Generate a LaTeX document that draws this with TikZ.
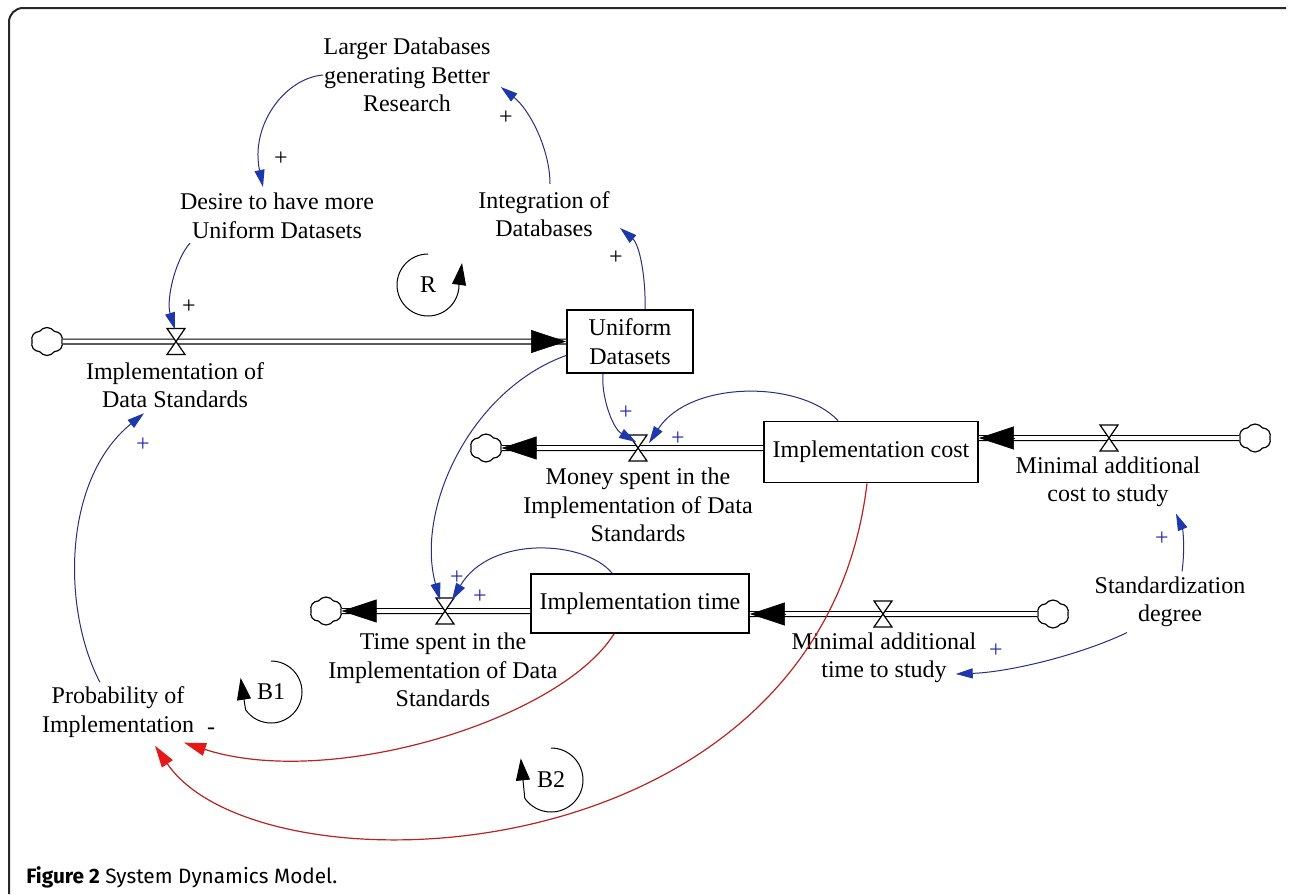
\documentclass[tikz,border=0pt]{standalone}
\usepackage{fontspec}
\setmainfont{Liberation Serif}
\newfontfamily\capfont{Fira Sans}
\usetikzlibrary{arrows.meta,shapes.symbols,calc}
\definecolor{linkc}{RGB}{45,45,125}
\definecolor{tipc}{RGB}{30,55,170}
\definecolor{plusc}{RGB}{40,40,175}
\definecolor{redl}{RGB}{185,35,35}
\definecolor{redt}{RGB}{230,25,25}
\definecolor{framec}{RGB}{40,40,40}
\begin{document}
\begin{tikzpicture}[x=0.5pt,y=-0.5pt,
  lbl/.style={font=\fontsize{12}{14.25}\selectfont, align=center, inner sep=0pt},
  stockbox/.style={draw, line width=0.9pt, fill=white, font=\fontsize{12}{14.25}\selectfont, align=center, inner sep=0pt},
  cloudn/.style={cloud, draw, line width=0.6pt, cloud puffs=6, cloud puff arc=110, aspect=1.1, minimum width=16pt, minimum height=14pt, inner sep=0pt, fill=white},
  pipe/.style={draw, line width=0.6pt, double=white, double distance=1.8pt},
  pipetip/.style={-{Triangle[length=17.5pt,width=11.5pt]}, line width=0.3pt, black},
  valvest/.style={draw, line width=0.6pt, fill=white},
  link/.style={linkc, line width=0.5pt, -{Triangle[length=8.5pt,width=5pt,color=tipc]}},
  redlink/.style={redl, line width=0.6pt, -{Triangle[length=11pt,width=6.5pt,color=redt]}},
  loopmk/.style={black, line width=0.5pt, -{Triangle[length=11pt,width=7pt]}},
  plus/.style={font=\fontsize{12}{14}\selectfont, inner sep=0pt},
  bplus/.style={plus, text=plusc}
]
\useasboundingbox (0,0) rectangle (1290,894);
\fill[white] (0,0) rectangle (1290,894);
\draw[framec, line width=1pt, rounded corners=7pt] (9,894) -- (9,8) -- (1286,8);

% labels
\node[lbl] (larger) at (407,75) {Larger Databases\\generating Better\\Research};
\node[lbl] (desire) at (277,216) {Desire to have more\\Uniform Datasets};
\node[lbl] (integ) at (544,214) {Integration of\\Databases};
\node[lbl] (ids) at (175,385) {Implementation of\\Data Standards};
\node[lbl] (money) at (638,505) {Money spent in the\\Implementation of Data\\Standards};
\node[lbl] (mcost) at (1108,482) {Minimal additional\\cost to study};
\node[lbl] (tspent) at (443,670) {Time spent in the\\Implementation of Data\\Standards};
\node[lbl] (mtime) at (884,658) {Minimal additional\\time to study};
\node[lbl] (std) at (1170,602) {Standardization\\degree};
\node[lbl] (prob) at (118,712) {Probability of\\Implementation};

% clouds
\node[cloudn] (c1) at (47,341.5) {};
\node[cloudn] (c2) at (486,448) {};
\node[cloudn] (c3) at (1255,438) {};
\node[cloudn] (c4) at (326,611) {};
\node[cloudn] (c5) at (1053,614) {};

% stocks
\node[stockbox, minimum width=63pt, minimum height=31.5pt] (ud) at (630,341.5) {Uniform\\Datasets};
\node[stockbox, minimum width=107pt, minimum height=30.5pt] (ic) at (871,452) {Implementation cost};
\node[stockbox, minimum width=109pt, minimum height=29.5pt] (it) at (640,603.5) {Implementation time};

% valves
\coordinate (v1) at (176,341.5);
\coordinate (v2) at (638,448);
\coordinate (v3) at (1109,438);
\coordinate (v4) at (445,611);
\coordinate (v5) at (883,614);

\coordinate (icw) at (ic.west |- v2);
\coordinate (ice) at (ic.east |- v3);
\coordinate (itw) at (it.west |- v4);
\coordinate (ite) at (it.east |- v5);

% pipes
\draw[pipe] (c1.east) -- (ud.west);
\draw[pipetip] ([xshift=-17.5pt]ud.west) -- (ud.west);
\draw[pipe] (icw) -- (c2.east);
\draw[pipetip] ([xshift=17.5pt]c2.east) -- (c2.east);
\draw[pipe] (c3.west) -- (ice);
\draw[pipetip] ([xshift=17.5pt]ice) -- (ice);
\draw[pipe] (itw) -- (c4.east);
\draw[pipetip] ([xshift=17.5pt]c4.east) -- (c4.east);
\draw[pipe] (c5.west) -- (ite);
\draw[pipetip] ([xshift=17.5pt]ite) -- (ite);

\foreach \v in {v1,v2,v3,v4,v5}
  \draw[valvest] (\v) ++(-9,-13) -- ++(18,0) -- ++(-18,26) -- ++(18,0) -- cycle;

% causal links
\draw[link] (larger.west) .. controls (285,78) and (250,125) .. ($(desire.north)+(-14,-6)$);
\draw[link] ($(integ.north)+(6,-7)$) .. controls (550,150) and (530,110) .. ($(larger.east)+(10,12)$);
\draw[link] ($(desire.south)+(-87,4)$) .. controls (175,260) and (166,300) .. ($(v1)+(-1,-12)$);
\draw[link] ($(ud.north)+(15,0)$) .. controls (646,280) and (640,245) .. ($(integ.east)+(10,14)$);
\draw[link] ($(ud.west)+(0,14)$) .. controls (470,390) and (415,510) .. ($(v4)+(-5,-11)$);
\draw[link] ($(ud.south)+(-27,0)$) .. controls (601,395) and (612,428) .. ($(v2)+(-2,-6)$);
\draw[link] ($(ic.north)+(-33,0)$) .. controls (800,380) and (690,380) .. ($(v2)+(11,-5)$);
\draw[link] ($(it.north)+(-28,0)$) .. controls (585,540) and (490,535) .. ($(v4)+(7,-11)$);
\draw[link] ($(prob.north)+(-18,-4)$) .. controls (62,610) and (62,480) .. ($(ids.south)+(-31,5)$);
\draw[link] ($(std.north)+(12,-5)$) .. controls (1185,550) and (1183,530) .. ($(mcost.south)+(68,6)$);
\draw[link] ($(std.south)+(-43,5)$) .. controls (1080,655) and (1010,672) .. ($(mtime.east)+(-21,16)$);
\draw[redlink] ($(it.south)+(-26,0)$) .. controls (560,720) and (330,790) .. ($(prob.south)+(66,5)$);
\draw[redlink] ($(ic.south)+(-4,0)$) .. controls (820,880) and (260,900) .. ($(prob.south)+(37,8)$);

% polarities
\node[plus] (p1) at (281,159) {+};
\node[plus] (p2) at (506,118) {+};
\node[plus] (p3) at (189,307) {+};
\node[plus] (p4) at (616,258) {+};
\node[bplus] (p5) at (626,413) {+};
\node[bplus] (p6) at (678,439) {+};
\node[bplus] (p7) at (457,578) {+};
\node[bplus] (p8) at (480,597) {+};
\node[bplus] (p9) at (143,445) {+};
\node[bplus] (p10) at (1162,539) {+};
\node[bplus] (p11) at (996,651) {+};
\node[plus] (m1) at (211,731) {-};

% loop markers
\node[lbl] (lr) at (428,285) {R};
\draw[loopmk] (lr.center) ++(-90:31) arc[start angle=-90, end angle=-360, radius=31] -- ++(3,-22);
\node[lbl] (lb1) at (271,692) {B1};
\draw[loopmk] (lb1.center) ++(-90:31) arc[start angle=-90, end angle=145, radius=31] -- ++(-5,-32);
\node[lbl] (lb2) at (551,780) {B2};
\draw[loopmk] (lb2.center) ++(-90:32) arc[start angle=-90, end angle=145, radius=32] -- ++(-4,-40);

% caption
\node[anchor=base west, inner sep=0pt, font=\capfont\fontsize{10.4}{12}\selectfont] (cap) at (26,883) {\textbf{Figure 2} System Dynamics Model.};
\end{tikzpicture}
\end{document}
